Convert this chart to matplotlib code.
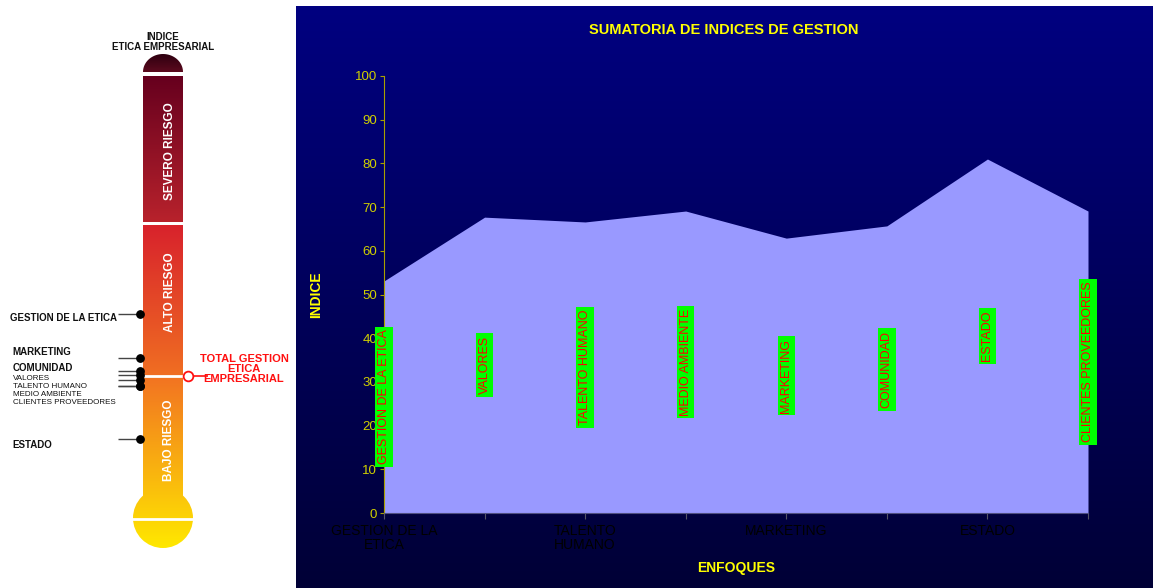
import numpy as np
import matplotlib
matplotlib.use("Agg")
import matplotlib.pyplot as plt
from matplotlib.patches import Rectangle, Circle, Polygon
from matplotlib.colors import to_rgb

plt.rcParams['font.family'] = ['Liberation Sans', 'DejaVu Sans']

# ---------------- data ----------------
categories = ['GESTION DE LA ETICA', 'VALORES', 'TALENTO HUMANO', 'MEDIO AMBIENTE',
              'MARKETING', 'COMUNIDAD', 'ESTADO', 'CLIENTES PROVEEDORES']
values = [53.1, 67.7, 66.6, 69.1, 62.9, 65.7, 81.0, 69.1]
xtick_labels = ['GESTION DE LA\nETICA', '', 'TALENTO\nHUMANO', '', 'MARKETING', '', 'ESTADO', '']
yticks = list(range(0, 101, 10))
title = 'SUMATORIA DE INDICES DE GESTION'
xlabel = 'ENFOQUES'
ylabel = 'INDICE'

W, H = 1153, 588
fig = plt.figure(figsize=(W / 100, H / 100), dpi=100)
fig.patch.set_facecolor('white')


def grad(c1, c2, n=256):
    a, b = np.array(to_rgb(c1)), np.array(to_rgb(c2))
    t = np.linspace(0, 1, n)[:, None]
    return (a + (b - a) * t)[:, None, :]


# ---------------- chart panel background ----------------
bg = fig.add_axes([296 / W, 0, (W - 296) / W, (H - 6) / H])
bg.imshow(grad('#000080', '#000036'), aspect='auto', extent=(0, 1, 0, 1), origin='upper')
bg.set_xlim(0, 1); bg.set_ylim(0, 1)
bg.axis('off')
bg.set_zorder(0)

# ---------------- main chart ----------------
ax = fig.add_axes([384 / W, 1 - 513 / H, 704 / W, 437 / H])
ax.set_zorder(2)
ax.set_facecolor('none')
x = np.arange(len(categories))
ax.fill_between(x, values, color='#9999ff', lw=0, zorder=2)
ax.set_xlim(0, len(categories) - 1)
ax.set_ylim(0, 100)
ax.set_yticks(yticks)
ax.set_yticklabels([str(v) for v in yticks], color='#d0d000', fontsize=9.5)
ax.set_xticks(x)
ax.set_xticklabels(xtick_labels, color='black', fontsize=10, linespacing=1.0)
ax.tick_params(axis='y', direction='out', length=3, color='#a8a000', pad=2)
ax.tick_params(axis='x', direction='out', length=4, color='#555566', pad=4)
for s in ['top', 'right']:
    ax.spines[s].set_visible(False)
ax.spines['left'].set_color('#a8a000')
ax.spines['bottom'].set_color('#505080')
ax.spines['bottom'].set_zorder(3)

for i, (name, v) in enumerate(zip(categories, values)):
    ax.text(i, v / 2, name, rotation=90, ha='center', va='center', color='#ff0000',
            fontsize=9, zorder=5, clip_on=False,
            bbox=dict(boxstyle='square,pad=0.22', fc='#00ff00', ec='none'))

fig.text(724 / W, 1 - 30 / H, title, color='#ffff00', fontsize=10.5, fontweight='bold',
         ha='center', va='center')
fig.text(736 / W, 1 - 568 / H, xlabel, color='#ffff00', fontsize=10, fontweight='bold',
         ha='center', va='center')
fig.text(316 / W, 1 - 295 / H, ylabel, color='#ffff00', fontsize=10, fontweight='bold',
         ha='center', va='center', rotation=90)

# ---------------- thermometer (decorative) ----------------
tax = fig.add_axes([0, 0, 296 / W, 1])
tax.set_xlim(0, 296); tax.set_ylim(588, 0)
tax.axis('off')
tax.set_zorder(1)

x0, x1 = 143, 183
cx = 163
# cap
th = np.linspace(0, np.pi, 60)
cap = Polygon(np.column_stack([cx + 20 * np.cos(th), 72 - 18 * np.sin(th)]), closed=True,
              fc='none', ec='none')
tax.add_patch(cap)
im = tax.imshow(grad('#2e0010', '#5c0a1e'), aspect='auto', extent=(x0, x1, 72, 54), origin='upper')
im.set_clip_path(cap)

# severo
r1 = Rectangle((x0, 76), 40, 146, fc='none', ec='none'); tax.add_patch(r1)
im = tax.imshow(grad('#66001e', '#b8222c'), aspect='auto', extent=(x0, x1, 222, 76), origin='upper')
im.set_clip_path(r1)
# alto
r2 = Rectangle((x0, 225), 40, 150, fc='none', ec='none'); tax.add_patch(r2)
im = tax.imshow(grad('#d8222c', '#f06e22'), aspect='auto', extent=(x0, x1, 375, 225), origin='upper')
im.set_clip_path(r2)
# bajo + bulb
r3 = Rectangle((x0, 375), 40, 135, fc='none', ec='none'); tax.add_patch(r3)
im = tax.imshow(grad('#f27222', '#ffe800'), aspect='auto', extent=(133, 193, 548, 375), origin='upper')
im.set_clip_path(r3)
bulb = Circle((cx, 518), 30, fc='none', ec='none'); tax.add_patch(bulb)
im = tax.imshow(grad('#f27222', '#ffe800'), aspect='auto', extent=(133, 193, 548, 375), origin='upper')
im.set_clip_path(bulb)
tax.plot([132, 194], [519, 519], color='white', lw=2)

tax.text(170, 151, 'SEVERO RIESGO', rotation=90, color='white', fontsize=8.5,
         fontweight='bold', ha='center', va='center')
tax.text(170, 292, 'ALTO RIESGO', rotation=90, color='white', fontsize=8.5,
         fontweight='bold', ha='center', va='center')
tax.text(169, 440, 'BAJO RIESGO', rotation=90, color='white', fontsize=8.5,
         fontweight='bold', ha='center', va='center')

tax.text(cx, 42, 'INDICE\nETICA EMPRESARIAL', color='#111111', fontsize=7, fontweight='bold',
         ha='center', va='center', linespacing=1.0)

# left labels
bold_labels = [('GESTION DE LA ETICA', 10, 318), ('MARKETING', 12, 352),
               ('COMUNIDAD', 13, 368), ('ESTADO', 12, 445)]
for t, lx, ly in bold_labels:
    tax.text(lx, ly, t, fontsize=7, fontweight='bold', color='#111111', ha='left', va='center')
small_labels = [('VALORES', 379), ('TALENTO HUMANO', 386), ('MEDIO AMBIENTE', 394),
                ('CLIENTES PROVEEDORES', 403)]
for t, ly in small_labels:
    tax.text(13, ly, t, fontsize=5.8, color='#111111', ha='left', va='center')

tax.text(244, 369, 'TOTAL GESTION\nETICA\nEMPRESARIAL', color='#ff1010', fontsize=8,
         fontweight='bold', ha='center', va='center', linespacing=0.95)

# scale axes for thermometer readings (value -> position along tube)
sax = fig.add_axes([0, 0, 296 / W, 1])
sax.set_xlim(0, 296)
sax.set_ylim(114.15, -17.1)
sax.axis('off')
sax.set_zorder(1.5)
sax.patch.set_alpha(0)
sax.hlines(values, 118, 140, color='#444444', lw=1)
sax.scatter([140] * len(values), values, s=28, color='black', zorder=3)
total = float(np.mean(values))
sax.hlines(total, x0, 185, color='white', lw=2)
sax.hlines(total, 192, 208, color='#ff1010', lw=1.2)
sax.plot([188], [total], 'o', ms=7, mfc='white', mec='#ff1010', mew=1.3, zorder=4)

fig.savefig('out.png', dpi=100, facecolor='white')
